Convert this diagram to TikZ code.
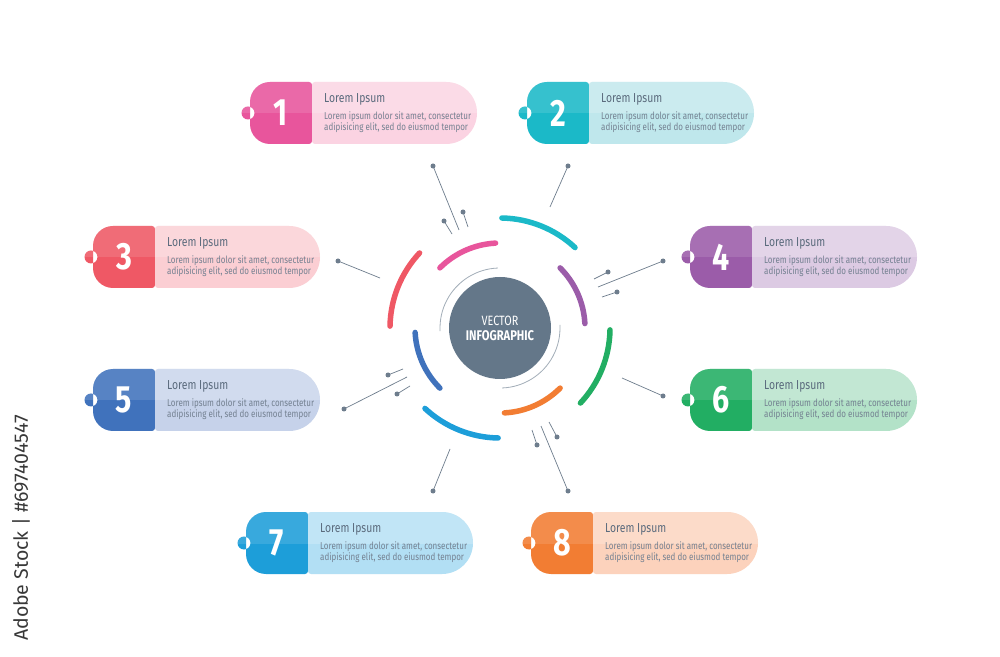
\documentclass[tikz,border=0pt]{standalone}
\usepackage{fontspec}
\setmainfont{Fira Sans}
\newfontfamily\narrowfont{Fira Sans}[FakeStretch=0.8]
\definecolor{tab1}{HTML}{E8559C}\definecolor{body1}{HTML}{FBD3E2}
\definecolor{tab2}{HTML}{1BB9C8}\definecolor{body2}{HTML}{BFE7EC}
\definecolor{tab3}{HTML}{EF5865}\definecolor{body3}{HTML}{FBCED3}
\definecolor{tab4}{HTML}{9B5CA9}\definecolor{body4}{HTML}{DCCAE3}
\definecolor{tab5}{HTML}{4072BC}\definecolor{body5}{HTML}{C6D2EA}
\definecolor{tab6}{HTML}{22AE63}\definecolor{body6}{HTML}{B3E2C8}
\definecolor{tab7}{HTML}{1D9ED9}\definecolor{body7}{HTML}{B2DFF4}
\definecolor{tab8}{HTML}{F27D33}\definecolor{body8}{HTML}{FCD2BC}
\definecolor{hubgray}{HTML}{647789}
\definecolor{ink}{HTML}{5B6B7D}
\definecolor{wire}{HTML}{6E7D8D}
% number tab and text body of one box, #1 = right edge of tab, #2 = middle
\newcommand\tabshape[2]{(#1-42,#2+31) -- (#1-3,#2+31) arc[start angle=90,end angle=0,radius=3pt]
  -- (#1,#2-28) arc[start angle=0,end angle=-90,radius=3pt]
  -- (#1-42,#2-31) arc[start angle=270,end angle=180,radius=20pt]
  -- (#1-62,#2+11) arc[start angle=180,end angle=90,radius=20pt] -- cycle
  (#1-64,#2) circle (6.5pt)}
\newcommand\bodyshape[2]{(#1+3,#2+31) -- (#1+134,#2+31) arc[start angle=90,end angle=-90,radius=31pt]
  -- (#1+3,#2-31) arc[start angle=270,end angle=180,radius=3pt]
  -- (#1,#2+28) arc[start angle=180,end angle=90,radius=3pt] -- cycle}
\tikzset{
  ring/.style={line width=5.5pt,line cap=round},
  guide/.style={draw=hubgray!60,line width=0.8pt},
  wireline/.style={draw=wire,line width=0.7pt},
  num/.style={text=white,font=\narrowfont\bfseries\fontsize{38}{38}\selectfont,inner sep=0pt},
  title/.style={anchor=west,text=ink,font=\narrowfont\fontsize{13}{15}\selectfont,inner sep=0pt},
  blurb/.style={anchor=west,text=ink!85,font=\narrowfont\fontsize{10}{11}\selectfont,align=left,inner sep=0pt}
}
\begin{document}
\begin{tikzpicture}[x=1pt,y=1pt]
\fill[white] (0,0) rectangle (1000,656);
\useasboundingbox (0,0) rectangle (1000,656);
% boxes
\foreach \n/\x/\y in {1/312/543,2/589/543,3/155/399,4/752/399,5/155/256,6/752/256,7/308/113,8/593/113} {
  \fill[tab\n] \tabshape{\x}{\y};
  \fill[body\n] \bodyshape{\x}{\y};
  \begin{scope}
    \clip (\x-75,\y) rectangle (\x+170,\y+32);
    \fill[white,opacity=.12] \tabshape{\x}{\y};
    \fill[white,opacity=.2] \bodyshape{\x}{\y};
  \end{scope}
  \node[num] (num\n) at (\x-31,\y) {\n};
  \node[title] (title\n) at (\x+12,\y+14) {Lorem Ipsum};
  \node[blurb] (text\n) at (\x+12,\y-9.5) {Lorem ipsum dolor sit amet, consectetur\\adipisicing elit, sed do eiusmod tempor};
}
% rings round the hub
\draw[guide] (500,328) ++(92:60) arc[start angle=92,end angle=183,radius=60];
\draw[guide] (500,328) ++(272:60) arc[start angle=272,end angle=363,radius=60];
\foreach \c/\a/\r in {tab2/46/110,tab3/136/110,tab7/226/110,tab6/316/110,tab4/2/85,tab1/92/85,tab5/182/85,tab8/272/85}
  \draw[ring,\c] (500,328) ++(\a+1:\r) arc[start angle=\a+1,end angle=\a+43,radius=\r];
\node[circle,fill=hubgray,minimum size=102pt,inner sep=0pt,align=center,text=white] (hub) at (500,328)
  {{\narrowfont\fontsize{13.5}{14}\selectfont VECTOR}\\[3pt]{\narrowfont\bfseries\fontsize{14}{14}\selectfont INFOGRAPHIC}};
% short lines with dots
\foreach \ax/\ay/\bx/\by in {433/490/459/426,444/435/452/422,463/444/468/429,338/395/380/378,
    568/490/550/449,663/395/598/369,608/384/594/377,617/364/602/359,
    388/281/403/287,344/247/407/279,397/262/410/270,433/165/450/207,
    663/260/622/278,537/211/532/226,568/165/541/230,557/219/549/234} {
  \draw[wireline] (\ax,\ay) -- (\bx,\by);
  \fill[wire] (\ax,\ay) circle (2.5pt);
}
\node[rotate=90,text=black!78,font=\fontsize{19.5}{20}\selectfont,inner sep=0pt] (stock) at (21,128) {Adobe Stock | \#697404547};
\end{tikzpicture}
\end{document}
